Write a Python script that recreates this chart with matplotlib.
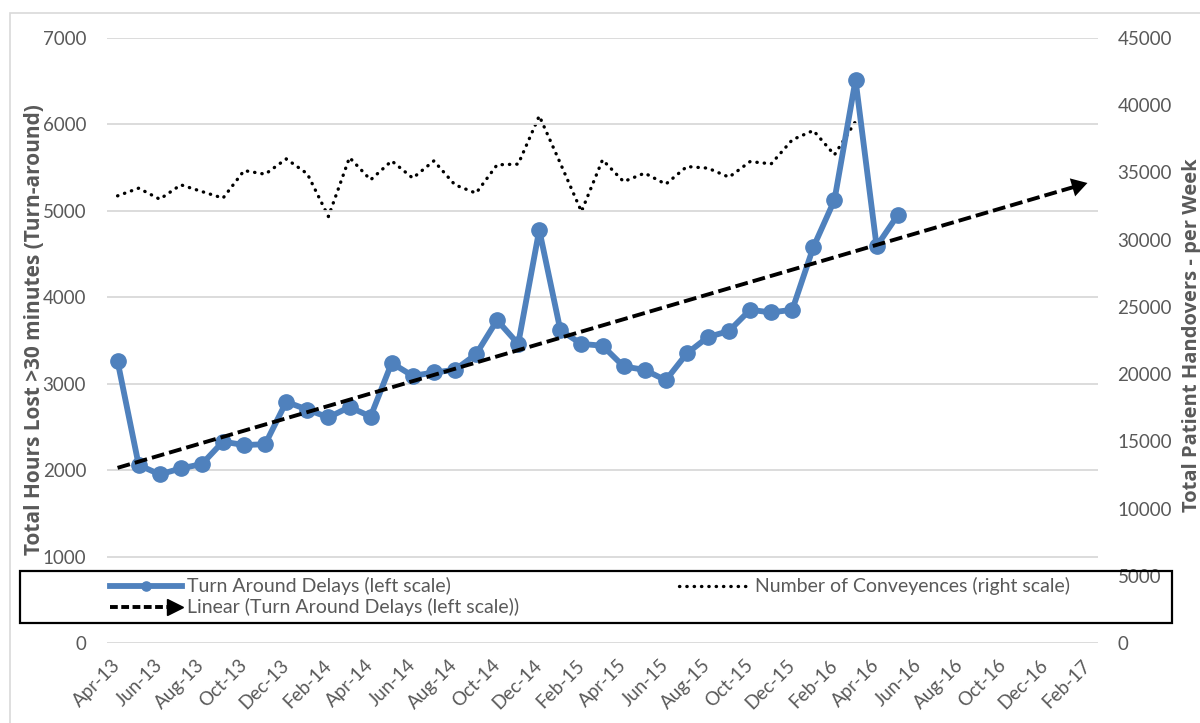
import numpy as np
import matplotlib
matplotlib.use("Agg")
import matplotlib.pyplot as plt
from matplotlib.lines import Line2D
from matplotlib.legend_handler import HandlerBase
from matplotlib.patches import Rectangle

plt.rcParams['font.family'] = ['Lato', 'DejaVu Sans']

# every second month shown on the x axis
tick_labels = ['Apr-13', 'Jun-13', 'Aug-13', 'Oct-13', 'Dec-13', 'Feb-14',
               'Apr-14', 'Jun-14', 'Aug-14', 'Oct-14', 'Dec-14', 'Feb-15',
               'Apr-15', 'Jun-15', 'Aug-15', 'Oct-15', 'Dec-15', 'Feb-16',
               'Apr-16', 'Jun-16', 'Aug-16', 'Oct-16', 'Dec-16', 'Feb-17']

# monthly values, Apr-13 .. May-16 (left scale)
delays = [3260, 2060, 1950, 2020, 2070, 2330, 2290, 2300, 2790, 2700,
          2610, 2730, 2620, 3240, 3090, 3130, 3160, 3340, 3735, 3460,
          4780, 3620, 3460, 3440, 3200, 3160, 3040, 3350, 3540, 3610,
          3855, 3825, 3855, 4580, 5125, 6515, 4590, 4950]

# monthly values, Apr-13 .. Mar-16 (right scale)
conveyances = [33260, 33830, 33010, 34080, 33580, 33090, 35140, 34870, 36010, 34900,
               31720, 36110, 34450, 35860, 34580, 35860, 34080, 33460, 35570, 35620,
               39210, 35680, 32090, 35940, 34320, 34950, 34130, 35440, 35320, 34650,
               35810, 35640, 37430, 38120, 36310, 38790]

n_months = 2 * len(tick_labels) - 1
months = np.arange(len(delays))
conv_months = np.arange(len(conveyances))

# linear trend of the delays, forecast out to the end of the axis
slope, icpt = np.polyfit(months, delays, 1)
trend_end = n_months - 1

BLUE = '#4F81BD'
GREY = '#595959'
GRID = '#D9D9D9'


class HandlerArrowLine(HandlerBase):
    def create_artists(self, legend, orig_handle, xdescent, ydescent,
                       width, height, fontsize, trans):
        y = height / 2 - ydescent
        line = Line2D([-xdescent, width - xdescent - 6], [y, y], color='black',
                      lw=2.8, linestyle=(0, (2.0, 0.9)), transform=trans)
        head = Line2D([width - xdescent - 5], [y], marker='>', markersize=11,
                      color='black', lw=0, transform=trans)
        return [line, head]


fig = plt.figure(figsize=(12, 7.23), dpi=100)
ax = fig.add_axes([0.0892, 0.1107, 0.8258, 0.8367])
ax2 = ax.twinx()
ax.set_zorder(ax2.get_zorder() + 1)
ax.patch.set_visible(False)

# Number of conveyences (right)
conv_line, = ax2.plot(conv_months, conveyances, color='black', lw=2.4,
                      linestyle=(0, (0.1, 2.1)), dash_capstyle='round')

# Turn around delays (left)
delay_line, = ax.plot(months, delays, color=BLUE, lw=4.2, marker='o',
                      markersize=11, zorder=3)

# trendline with arrow head
tx = np.array([0, trend_end - 0.5])
ax.plot(tx, icpt + slope * tx, color='black', lw=2.8,
        linestyle=(0, (3.3, 1.3)), zorder=4)
ax.annotate('', xy=(trend_end, icpt + slope * trend_end),
            xytext=(trend_end - 1, icpt + slope * (trend_end - 1)),
            arrowprops=dict(arrowstyle='-|>,head_length=0.75,head_width=0.45',
                            color='black', lw=0, mutation_scale=15,
                            shrinkA=0, shrinkB=0), zorder=5)

# axes
ax.set_xlim(-0.5, n_months - 0.5)
ax.set_ylim(0, 7000)
ax2.set_ylim(0, 45000)
ax.set_yticks(np.arange(0, 7001, 1000))
ax2.set_yticks(np.arange(0, 45001, 5000))
ax.set_xticks(np.arange(0, n_months, 2))
ax.set_xticklabels(tick_labels, rotation=45, ha='right', va='center',
                   rotation_mode='anchor')
ax.grid(axis='y', color=GRID, lw=1.3)
ax.set_axisbelow(True)
for a in (ax, ax2):
    for s in a.spines.values():
        s.set_visible(False)
ax.tick_params(axis='y', length=0, pad=15, labelsize=13.5, labelcolor=GREY)
ax2.tick_params(axis='y', length=0, pad=14, labelsize=13.5, labelcolor=GREY)
ax.tick_params(axis='x', length=0, pad=14, labelsize=13.5, labelcolor=GREY)

fig.text(0.029, 0.544, 'Total Hours Lost >30 minutes (Turn-around)', rotation=90,
         ha='center', va='center', fontsize=15, fontweight='bold',
         family='Open Sans', color=GREY)
fig.text(0.9935, 0.537, 'Total Patient Handovers - per Week', rotation=90,
         ha='center', va='center', fontsize=14.5, fontweight='bold',
         family='Open Sans', color=GREY)

# legend with its own frame
trend_handle = Line2D([], [], color='black')
fig.legend([delay_line, trend_handle, conv_line],
           ['Turn Around Delays (left scale)',
            'Linear (Turn Around Delays (left scale))',
            'Number of Conveyences (right scale)'],
           handler_map={trend_handle: HandlerArrowLine()},
           ncol=2, loc='center', bbox_to_anchor=(0.492, 0.1745),
           frameon=False, fontsize=14, labelcolor=GREY, handlelength=3.7,
           handletextpad=0.25, labelspacing=0.15, columnspacing=8.2,
           borderpad=0.2, markerscale=0.6)
fig.add_artist(Rectangle((20 / 1200, 1 - 623 / 723), 1152 / 1200, 52 / 723,
                         transform=fig.transFigure, fill=False,
                         edgecolor='black', lw=1.6))

# chart area border
fig.add_artist(Rectangle((10 / 1200, -0.1), 1.2, 1.1 - 12.7 / 723,
                         transform=fig.transFigure, fill=False,
                         edgecolor=GRID, lw=1.2))

fig.savefig('out.png', dpi=100)
